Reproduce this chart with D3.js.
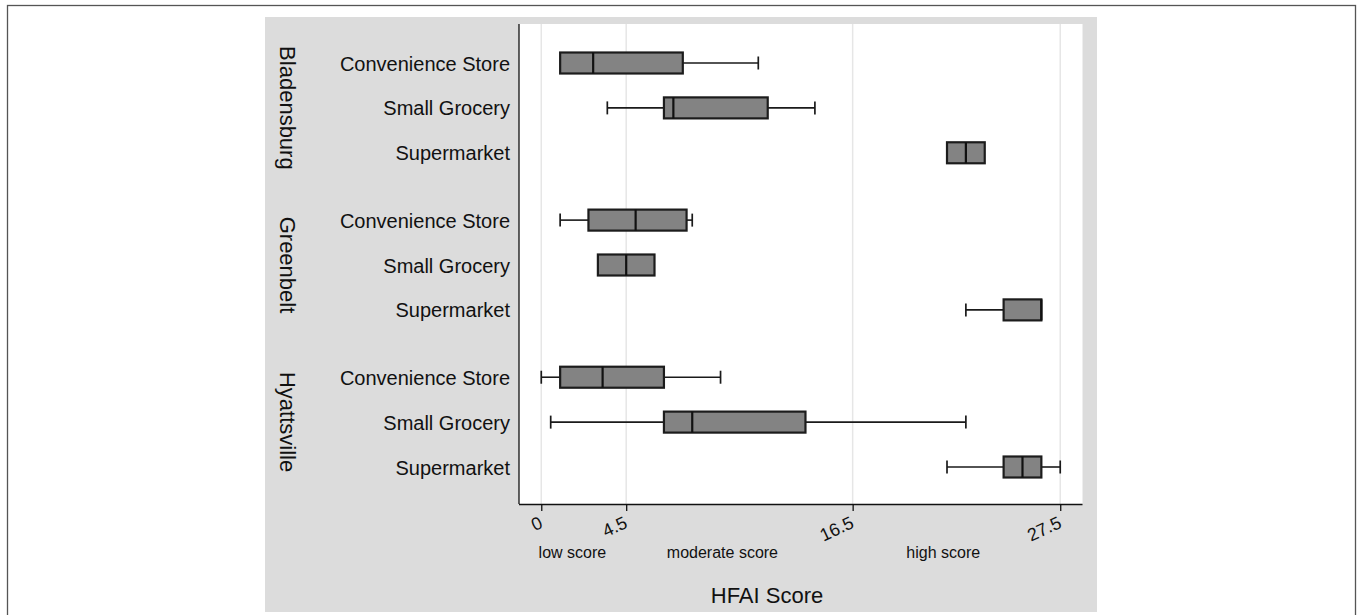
<!DOCTYPE html>
<html>
<head>
<meta charset="utf-8">
<script src="https://cdn.jsdelivr.net/npm/d3@7"></script>
<style>
  body { margin: 0; background: #ffffff; }
  svg { display: block; font-family: "Liberation Sans", Arial, Helvetica, sans-serif; }
</style>
</head>
<body>
<svg id="chart" width="1360" height="615"></svg>
<script>
// Towns and store types (rows are town x store type, in this order)
const towns = ["Bladensburg", "Greenbelt", "Hyattsville"];
const storeTypes = ["Convenience Store", "Small Grocery", "Supermarket"];

// Box-plot summaries of HFAI score, one entry per row
const lowWhisker  = [1,    3.5, 21.5, 1,   3,   22.5, 0,    0.5, 21.5];
const q1          = [1,    6.5, 21.5, 2.5, 3,   24.5, 1,    6.5, 24.5];
const median      = [2.75, 7,   22.5, 5,   4.5, 26.5, 3.25, 8,   25.5];
const q3          = [7.5,  12,  23.5, 7.7, 6,   26.5, 6.5,  14,  26.5];
const highWhisker = [11.5, 14.5, 23.5, 8,  6,   26.5, 9.5,  22.5, 27.5];

// Axis ticks and score bands
const tickValues = [0, 4.5, 16.5, 27.5];
const tickLabels = ["0", "4.5", "16.5", "27.5"];
const bandLabels = ["low score", "moderate score", "high score"];
const bandCenters = [1.65, 9.6, 21.3];
const axisTitle = "HFAI Score";

const rows = [];
towns.forEach((town, g) => {
  storeTypes.forEach((store, s) => {
    const i = g * storeTypes.length + s;
    rows.push({
      town, store, group: g,
      slot: g * (storeTypes.length + 0.5) + s,
      lo: lowWhisker[i], q1: q1[i], med: median[i], q3: q3[i], hi: highWhisker[i]
    });
  });
});

const svg = d3.select("#chart");

// Frame and grey panel
svg.append("rect").attr("x", 7.5).attr("y", 5.5).attr("width", 1348).attr("height", 640)
  .attr("fill", "#ffffff").attr("stroke", "#555").attr("stroke-width", 1.3);
svg.append("rect").attr("x", 265).attr("y", 17).attr("width", 832).attr("height", 595)
  .attr("fill", "#dcdcdc");

const plot = { left: 519, right: 1082.5, top: 24, bottom: 504 };

svg.append("rect").attr("x", plot.left).attr("y", plot.top)
  .attr("width", plot.right - plot.left).attr("height", plot.bottom - plot.top)
  .attr("fill", "#ffffff");

const x = d3.scaleLinear().domain([-1.18, 28.68]).range([plot.left, plot.right]);
const maxSlot = d3.max(rows, d => d.slot);
const y = d3.scaleLinear().domain([0, maxSlot]).range([63, 467]);
const boxH = 21;
const capH = 13;

// Vertical grid lines at the tick values
svg.append("g").selectAll("line").data(tickValues).join("line")
  .attr("x1", d => x(d)).attr("x2", d => x(d))
  .attr("y1", plot.top).attr("y2", plot.bottom)
  .attr("stroke", "#e6e6e6").attr("stroke-width", 1.5);

// Box plots
const boxes = svg.append("g");
rows.forEach(r => {
  const cy = y(r.slot);
  const g = boxes.append("g");
  const whisk = [];
  if (r.lo < r.q1) whisk.push([r.lo, r.q1]);
  if (r.hi > r.q3) whisk.push([r.q3, r.hi]);
  whisk.forEach(([a, b]) => {
    g.append("line").attr("x1", x(a)).attr("x2", x(b)).attr("y1", cy).attr("y2", cy)
      .attr("stroke", "#1a1a1a").attr("stroke-width", 1.6);
  });
  if (r.lo < r.q1) g.append("line").attr("x1", x(r.lo)).attr("x2", x(r.lo))
    .attr("y1", cy - capH / 2).attr("y2", cy + capH / 2).attr("stroke", "#1a1a1a").attr("stroke-width", 1.7);
  if (r.hi > r.q3) g.append("line").attr("x1", x(r.hi)).attr("x2", x(r.hi))
    .attr("y1", cy - capH / 2).attr("y2", cy + capH / 2).attr("stroke", "#1a1a1a").attr("stroke-width", 1.7);
  g.append("rect").attr("x", x(r.q1)).attr("y", cy - boxH / 2)
    .attr("width", x(r.q3) - x(r.q1)).attr("height", boxH)
    .attr("fill", "#838383").attr("stroke", "#1c1c1c").attr("stroke-width", 2.2);
  g.append("line").attr("x1", x(r.med)).attr("x2", x(r.med))
    .attr("y1", cy - boxH / 2).attr("y2", cy + boxH / 2)
    .attr("stroke", "#111").attr("stroke-width", 2.2);
});

// Left axis line
svg.append("line").attr("x1", plot.left).attr("x2", plot.left)
  .attr("y1", plot.top).attr("y2", plot.bottom).attr("stroke", "#111").attr("stroke-width", 1.3);

// Bottom axis
const xAxis = d3.axisBottom(x).tickValues(tickValues).tickSize(7)
  .tickFormat((d, i) => tickLabels[i]);
const ax = svg.append("g").attr("transform", `translate(0,${plot.bottom})`).call(xAxis);
ax.select(".domain").attr("d", `M${plot.left},0.5H${plot.right}`).attr("stroke", "#111").attr("stroke-width", 1.3);
ax.selectAll(".tick line").attr("stroke", "#111").attr("stroke-width", 1.3);
ax.selectAll(".tick text")
  .attr("font-size", 18).attr("fill", "#111")
  .attr("text-anchor", "end")
  .attr("dy", null).attr("y", null)
  .attr("transform", "translate(2,23) rotate(-25)");

// Store type labels
svg.append("g").selectAll("text").data(rows).join("text")
  .attr("x", 510).attr("y", d => y(d.slot) + 7.5)
  .attr("text-anchor", "end").attr("font-size", 20).attr("fill", "#111")
  .text(d => d.store);

// Town labels, rotated
svg.append("g").selectAll("text").data(towns).join("text")
  .attr("transform", (d, g) => {
    const mid = y(g * (storeTypes.length + 0.5) + 1);
    return `translate(280,${mid}) rotate(90)`;
  })
  .attr("text-anchor", "middle").attr("font-size", 22).attr("fill", "#111")
  .text(d => d);

// Score band labels
svg.append("g").selectAll("text").data(bandLabels).join("text")
  .attr("x", (d, i) => x(bandCenters[i])).attr("y", 558)
  .attr("text-anchor", "middle").attr("font-size", 16).attr("fill", "#111")
  .text(d => d);

// Axis title
svg.append("text").attr("x", 767).attr("y", 603)
  .attr("text-anchor", "middle").attr("font-size", 22).attr("fill", "#111")
  .text(axisTitle);
</script>
</body>
</html>
